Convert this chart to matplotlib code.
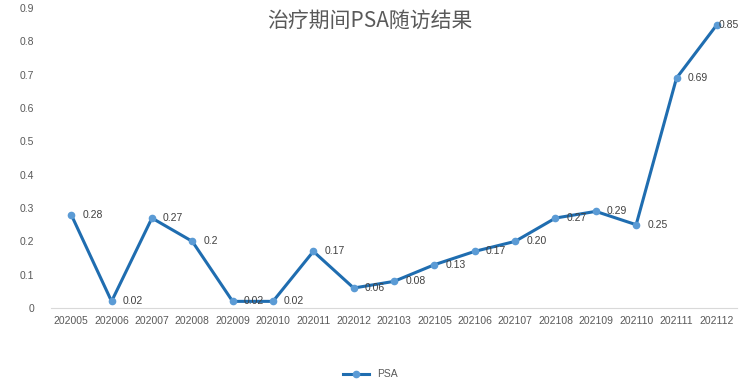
import matplotlib
matplotlib.use("Agg")
import matplotlib.pyplot as plt
from matplotlib.lines import Line2D

plt.rcParams["font.family"] = ["Liberation Sans", "Noto Sans CJK SC", "DejaVu Sans"]

# ── Data ─────────────────────────────────────────────────────────────────────
months = ["202005", "202006", "202007", "202008", "202009", "202010", "202011",
          "202012", "202103", "202105", "202106", "202107", "202108", "202109",
          "202110", "202111", "202112"]
psa = [0.28, 0.02, 0.27, 0.20, 0.02, 0.02, 0.17, 0.06, 0.08, 0.13, 0.17,
       0.20, 0.27, 0.29, 0.25, 0.69, 0.85]
psa_labels = ["0.28", "0.02", "0.27", "0.2", "0.02", "0.02", "0.17", "0.06",
              "0.08", "0.13", "0.17", "0.20", "0.27", "0.29", "0.25", "0.69",
              "0.85"]
yticks = [0, 0.1, 0.2, 0.3, 0.4, 0.5, 0.6, 0.7, 0.8, 0.9]
ytick_labels = ["0", "0.1", "0.2", "0.3", "0.4", "0.5", "0.6", "0.7", "0.8", "0.9"]

LINE = "#1F6DB0"
MARK = "#5B9BD5"
TXT = "#595959"

fig = plt.figure(figsize=(7.4, 3.86), dpi=100)
ax = fig.add_axes([0.069, 0.202, 0.927, 0.777])

x = list(range(len(months)))
ax.plot(x, psa, color=LINE, lw=2.2, marker="o", ms=4.5,
        markerfacecolor=MARK, markeredgecolor=MARK, zorder=3)

for i, (v, lab) in enumerate(zip(psa, psa_labels)):
    dx = 8 if i < len(psa) - 1 else 1
    ax.annotate(lab, (i, v), xytext=(dx, 0), textcoords="offset points",
                ha="left", va="center", fontsize=7.5, color="#404040")

ax.set_xlim(-0.5, len(months) - 0.5)
ax.set_ylim(0, 0.9)
ax.set_xticks(x)
ax.set_xticklabels(months, fontsize=7.5, color=TXT)
ax.set_yticks(yticks)
ax.set_yticklabels(ytick_labels, fontsize=7.5, color=TXT)
ax.tick_params(length=0, pad=6)
ax.tick_params(axis="y", pad=12)
for s in ["top", "right", "left"]:
    ax.spines[s].set_visible(False)
ax.spines["bottom"].set_color("#D9D9D9")

fig.text(0.5, 0.945, "治疗期间PSA随访结果", ha="center", va="center",
         fontsize=15, color=TXT, family=["Noto Sans CJK SC", "DejaVu Sans"])

handle = Line2D([], [], color=LINE, lw=2.2, marker="o", ms=4.5,
                markerfacecolor=MARK, markeredgecolor=MARK)
fig.legend([handle], ["PSA"], loc="center", bbox_to_anchor=(0.5, 0.03),
           frameon=False, fontsize=7.5, labelcolor=TXT, handlelength=2.5)

fig.savefig("out.png", dpi=100, facecolor="white")
